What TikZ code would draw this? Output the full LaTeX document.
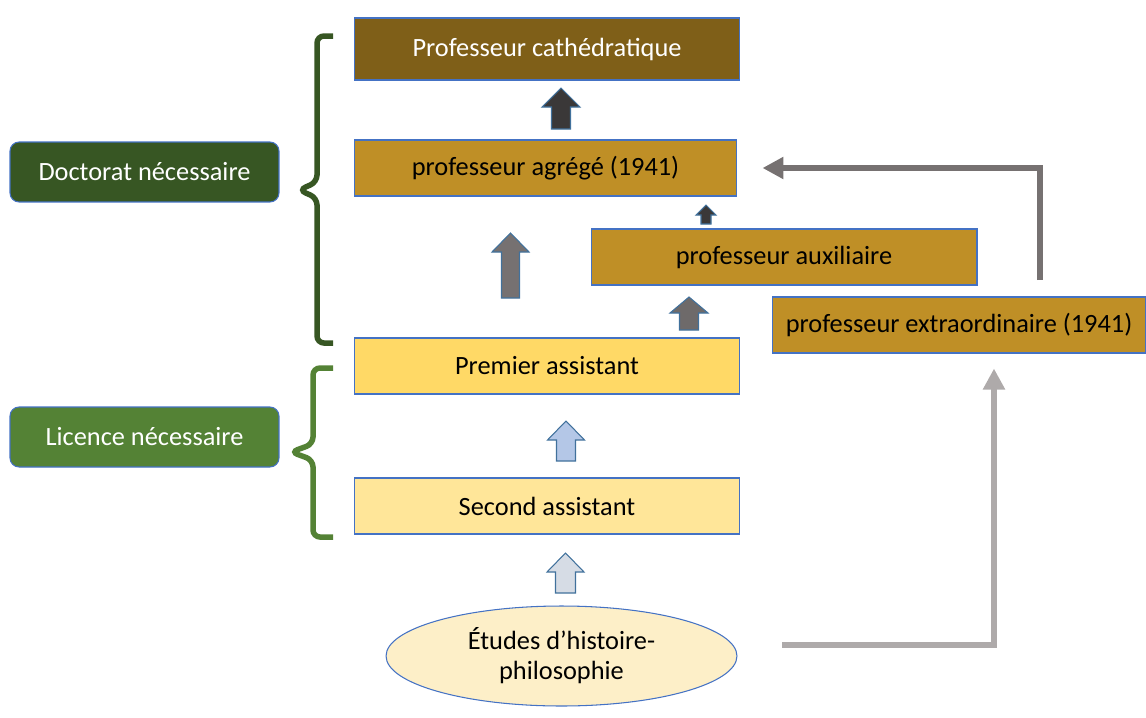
\documentclass[tikz,border=0pt]{standalone}
\usepackage{fontspec}
\setmainfont{Carlito}
\usepackage{xcolor}
\definecolor{colCath}{HTML}{7F5F18}
\definecolor{colAgr}{HTML}{BF8F26}
\definecolor{colPrem}{HTML}{FFD966}
\definecolor{colSec}{HTML}{FFE699}
\definecolor{colEtu}{HTML}{FDEFC8}
\definecolor{colDoct}{HTML}{375623}
\definecolor{colLic}{HTML}{548235}
\definecolor{colEdge}{HTML}{4472C4}
\definecolor{colArrEdge}{HTML}{41719C}
\definecolor{colArrDark}{HTML}{3A3838}
\definecolor{colArrGrey}{HTML}{767171}
\definecolor{colArrMid}{HTML}{6E6A6A}
\definecolor{colArrBlue}{HTML}{B4C7E7}
\definecolor{colArrPale}{HTML}{D6DCE5}
\definecolor{colElbLight}{HTML}{AEAAAA}
\usetikzlibrary{arrows.meta, positioning, calc, shapes.geometric}
\tikzset{
	rankbox/.style={draw=colEdge, line width=0.6pt, minimum width=7.72cm, minimum height=1.12cm,
		inner sep=0pt, font=\fontsize{15}{18}\selectfont, fill=#1},
	degbox/.style={draw=colEdge, line width=0.6pt, rounded corners=0.18cm, minimum width=5.38cm,
		minimum height=1.2cm, inner sep=0pt, text=white, font=\fontsize{15}{18}\selectfont, fill=#1},
	blkarrow/.style={draw=colArrEdge, line width=0.6pt, fill=#1},
	elbowarr/.style={line width=0.12cm, draw=#1, -{Triangle[length=0.42cm, width=0.42cm]}},
	bracepath/.style={line width=0.11cm, draw=#1, rounded corners=0.14cm},
}
% upward block arrow: fill, centre x, tip y, head base y, foot y, half head, half shaft
\newcommand\blockup[7]{%
	\filldraw[blkarrow=#1] (#2-#7,#5) -- (#2-#7,#4) -- (#2-#6,#4) -- (#2,#3)
		-- (#2+#6,#4) -- (#2+#7,#4) -- (#2+#7,#5) -- cycle;}

\begin{document}
\begin{tikzpicture}[x=0.02cm, y=-0.02cm]
	\useasboundingbox (0,0) rectangle (1146,717);

	\node[rankbox=colCath, text=white, minimum height=1.24cm] (cathedra) at (547,49) {Professeur cathédratique};
	\node[rankbox=colAgr, minimum width=7.66cm] (agrege) at (545.5,168) {professeur agrégé (1941)};
	\node[rankbox=colAgr] (auxil) at (784,257) {professeur auxiliaire};
	\node[rankbox=colAgr, minimum width=7.48cm] (extraord) at (959,325) {professeur extraordinaire (1941)};
	\node[rankbox=colPrem] (premier) at (547,366) {Premier assistant};
	\node[rankbox=colSec] (second) at (547,506) {Second assistant};
	\node[ellipse, draw=colEdge, line width=0.6pt, fill=colEtu, minimum width=7.02cm, minimum height=2cm,
		inner sep=0pt, align=center, font=\fontsize{15}{17}\selectfont] (etudes) at (561.5,656)
		{Études d’histoire-\\philosophie};

	\node[degbox=colDoct] (doctorat) at (144.5,172) {Doctorat nécessaire};
	\node[degbox=colLic] (licence) at (144.5,437) {Licence nécessaire};

	% braces
	\draw[bracepath=colDoct] (333,36) -- (317,36) -- (317,182) -- (299,190) -- (317,198) -- (317,343) -- (333,343);
	\draw[bracepath=colLic] (333,368) -- (313,368) -- (313,444) -- (291,452) -- (313,460) -- (313,537) -- (333,537);

	% promotions
	\blockup{colArrDark}{561}{88}{107}{129}{19}{9.5}
	\blockup{colArrDark}{706}{205}{215}{224}{10}{5}
	\blockup{colArrGrey}{510.5}{233}{252}{298}{18.5}{9}
	\blockup{colArrMid}{689}{297}{313}{330}{19}{9.5}
	\blockup{colArrBlue}{566}{421}{440}{461}{18.5}{9.5}
	\blockup{colArrPale}{565.5}{553}{572}{593}{18.5}{10}

	\coordinate (extUp) at (1040,280);
	\coordinate (etuOut) at (782,645);
	\draw[elbowarr=colArrGrey, shorten >=0.5cm] (extUp) |- (agrege.east);
	\draw[elbowarr=colElbLight, shorten >=0.3cm] (etuOut) -| ([xshift=0.7cm]extraord.south);
\end{tikzpicture}
\end{document}
